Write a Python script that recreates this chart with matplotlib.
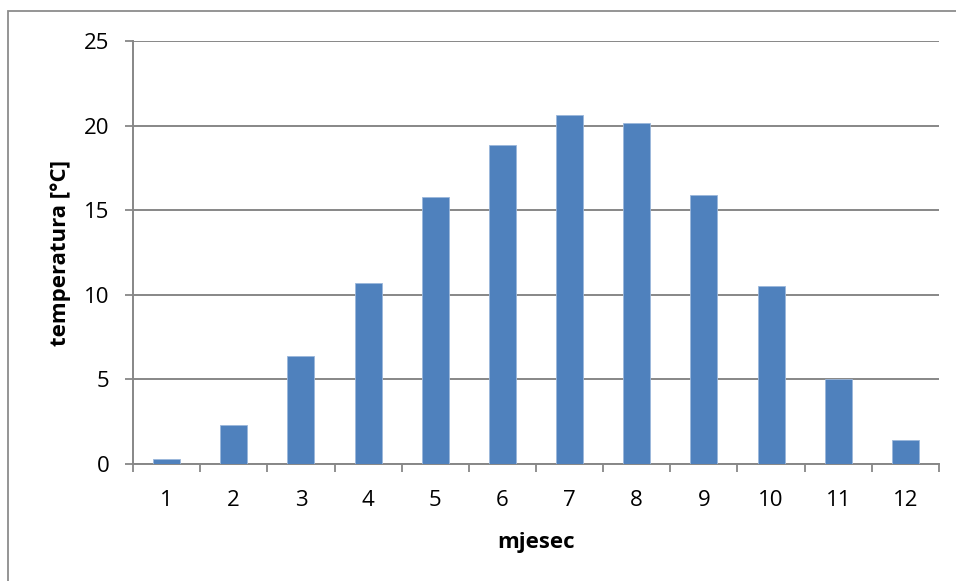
import numpy as np
import matplotlib.pyplot as plt
from matplotlib.patches import Rectangle

# Srednje mjesečne temperature
mjeseci = [1, 2, 3, 4, 5, 6, 7, 8, 9, 10, 11, 12]
temperature = [0.3, 2.3, 6.4, 10.7, 15.8, 18.85, 20.65, 20.15, 15.9, 10.5, 5.0, 1.4]
y_ticks = [0, 5, 10, 15, 20, 25]

plt.rcParams['font.family'] = ['Open Sans', 'DejaVu Sans']

fig = plt.figure(figsize=(9.56, 5.81), dpi=100)
ax = fig.add_axes([133 / 956, 1 - 464 / 581, (939 - 133) / 956, (464 - 41) / 581])

siva = '#878787'
fs = 16

ax.bar(mjeseci, temperature, width=0.4, color='#4F81BD',
       edgecolor='#9BB7DB', linewidth=0.6, zorder=3)

ax.set_xlim(0.5, 12.5)
ax.set_ylim(0, 25)

# podjele osi x na granicama kategorija, oznake u sredini
ax.set_xticks(np.arange(0.5, 13, 1))
ax.set_xticklabels([])
ax.set_xticks(mjeseci, minor=True)
ax.set_xticklabels([str(m) for m in mjeseci], minor=True, fontsize=fs)
ax.tick_params(axis='x', which='major', direction='out', length=6, width=1.3, color=siva)
ax.tick_params(axis='x', which='minor', length=0, pad=19)

ax.set_yticks(y_ticks)
ax.set_yticklabels([str(v) for v in y_ticks], fontsize=fs)
ax.tick_params(axis='y', direction='out', length=6, width=1.3, color=siva, pad=11)

ax.grid(axis='y', color=siva, linewidth=1.4, zorder=0)
ax.set_axisbelow(True)

for side in ['top', 'right']:
    ax.spines[side].set_visible(False)
for side in ['left', 'bottom']:
    ax.spines[side].set_color(siva)
    ax.spines[side].set_linewidth(1.4)

ax.set_xlabel('mjesec', fontsize=fs, fontweight='bold', labelpad=15)
ax.set_ylabel('temperatura [°C]', fontsize=fs, fontweight='bold', labelpad=9)

# okvir grafikona
fig.patches.append(Rectangle((8 / 956, -0.05), 1.0, 1 - 11 / 581 + 0.05,
                             transform=fig.transFigure, fill=False,
                             edgecolor='#8C8C8C', linewidth=1.3))

fig.savefig('out.png', dpi=100)
